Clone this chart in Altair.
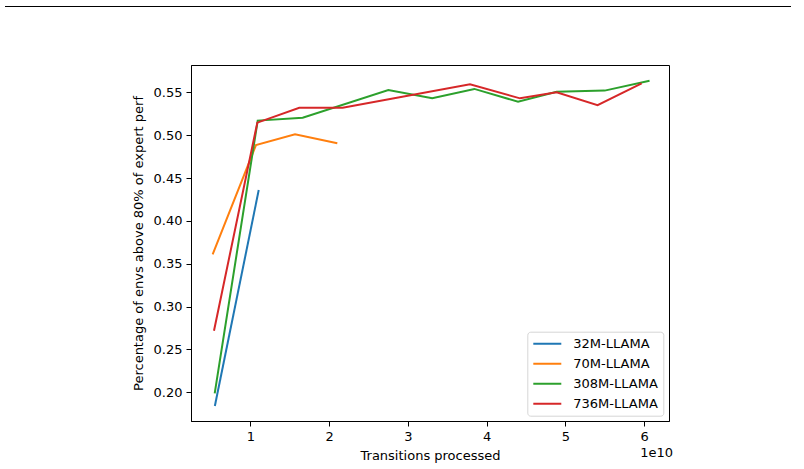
import altair as alt
import pandas as pd

# Transitions processed (in units of 1e10) and percentage values per model
series_names = ["32M-LLAMA", "70M-LLAMA", "308M-LLAMA", "736M-LLAMA"]
series_colors = ["#1f77b4", "#ff7f0e", "#2ca02c", "#d62728"]

x32 = [0.55, 1.107]
y32 = [0.184, 0.436]

x70 = [0.522, 1.072, 1.568, 2.105]
y70 = [0.361, 0.4885, 0.501, 0.4905]

x308 = [0.548, 1.094, 1.665, 2.753, 3.31, 3.845, 4.40, 4.89, 5.50, 6.07]
y308 = [0.1988, 0.517, 0.5204, 0.5527, 0.543, 0.554, 0.539, 0.5507, 0.552, 0.5636]

x736 = [0.539, 1.089, 1.622, 2.173, 3.79, 4.425, 4.89, 5.41, 5.97]
y736 = [0.2719, 0.5146, 0.532, 0.532, 0.5594, 0.543, 0.550, 0.535, 0.5605]

x_ticks = [1, 2, 3, 4, 5, 6]
y_ticks = [0.20, 0.25, 0.30, 0.35, 0.40, 0.45, 0.50, 0.55]

rows = []
for name, xs, ys in zip(series_names, [x32, x70, x308, x736], [y32, y70, y308, y736]):
    for i, (a, b) in enumerate(zip(xs, ys)):
        rows.append({"model": name, "x": a, "y": b, "i": i})
df = pd.DataFrame(rows)

W, H = 478, 356
FONT = "DejaVu Sans"

lines = alt.Chart(df).mark_line(strokeWidth=2).encode(
    x=alt.X("x:Q", scale=alt.Scale(domain=[0.247, 6.317], nice=False, zero=False),
            axis=alt.Axis(values=x_ticks, format="d", title="Transitions processed")),
    y=alt.Y("y:Q", scale=alt.Scale(domain=[0.1665, 0.5819], nice=False, zero=False),
            axis=alt.Axis(values=y_ticks, format=".2f",
                          title="Percentage of envs above 80% of expert perf")),
    color=alt.Color("model:N", scale=alt.Scale(domain=series_names, range=series_colors),
                    sort=series_names, legend=alt.Legend(title=None)),
    order=alt.Order("i:Q"),
)

one = pd.DataFrame({"a": [0]})
top_rule = alt.Chart(one).mark_rule(color="black", strokeWidth=1).encode(
    x=alt.value(5 - 191), x2=alt.value(791 - 191), y=alt.value(6.5 - 65)
)
offset_text = alt.Chart(one).mark_text(
    text="1e10", align="right", baseline="alphabetic", fontSize=13, font=FONT, color="black"
).encode(x=alt.value(W + 4), y=alt.value(392))

chart = alt.layer(lines, top_rule, offset_text).properties(
    width=W, height=H,
    autosize=alt.AutoSizeParams(type="none"),
    padding={"left": 191, "top": 65, "right": 804 - 191 - W, "bottom": 469 - 65 - H},
).configure(font=FONT, background="white").configure_view(
    stroke="black", strokeWidth=1
).configure_axis(
    grid=False, domainColor="black", domainWidth=1, tickColor="black", tickWidth=1,
    tickSize=5, labelFontSize=13, labelColor="black", titleFontSize=13,
    titleFontWeight="normal", titleColor="black", labelFont=FONT, titleFont=FONT,
).configure_axisX(labelPadding=4, titlePadding=6).configure_axisY(
    labelPadding=4, titlePadding=8
).configure_legend(
    orient="none", legendX=336.3, legendY=266.7, padding=5, strokeColor="#d6d6d6",
    fillColor="white", cornerRadius=3, symbolType="stroke", symbolSize=784,
    symbolStrokeWidth=2, clipHeight=14, rowPadding=6, labelOffset=11,
    labelFontSize=13, labelColor="black", labelFont=FONT,
)

chart.save("out.html", embed_options={"renderer": "svg", "actions": False})
